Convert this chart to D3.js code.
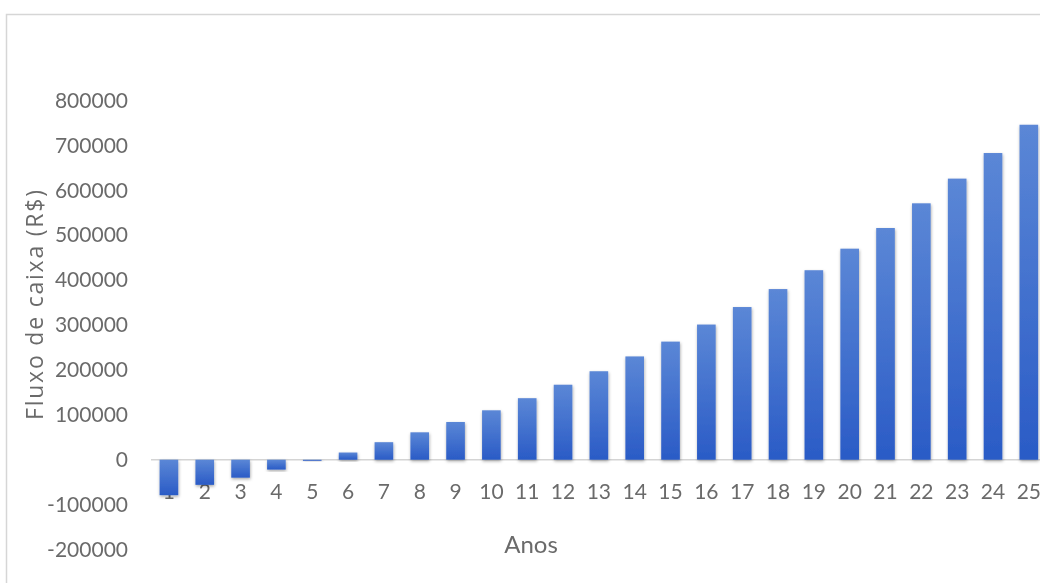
<!DOCTYPE html>
<html>
<head>
<meta charset="utf-8">
<script src="https://cdn.jsdelivr.net/npm/d3@7"></script>
<style>
  html, body { margin: 0; padding: 0; background: #fff; overflow: hidden; }
  svg { display: block; }
</style>
</head>
<body>
<svg id="chart" width="1040" height="583"></svg>
<script>
// Fluxo de caixa anual (R$) ao longo de 25 anos
const anos = ["1","2","3","4","5","6","7","8","9","10","11","12","13","14","15","16","17","18","19","20","21","22","23","24","25"];
const fluxo = [-79000, -56000, -40000, -22000, -2500, 16000, 39000, 61000, 84000, 110000, 137000, 167000, 197000, 230000, 263000, 301000, 340000, 380000, 422000, 470000, 516000, 571000, 626000, 683000, 746000];
const yTicks = [-200000, -100000, 0, 100000, 200000, 300000, 400000, 500000, 600000, 700000, 800000];

const svg = d3.select("#chart");
const font = "Lato, 'Open Sans', sans-serif";
const textColor = "#6b6b6b";

// chart frame (continues past the right and bottom edges)
svg.append("rect")
  .attr("x", 6.5).attr("y", 14.5)
  .attr("width", 1100).attr("height", 700)
  .attr("fill", "#fff")
  .attr("stroke", "#d6d6d6").attr("stroke-width", 1.5);

const x = d3.scaleBand().domain(anos).range([151, 151 + 25 * 35.83]).paddingInner(0.48).paddingOuter(0.24);
const y = d3.scaleLinear().domain([-200000, 800000]).range([549.5, 100.5]);

const defs = svg.append("defs");
const grad = defs.append("linearGradient").attr("id", "barGrad")
  .attr("x1", 0).attr("y1", 0).attr("x2", 0).attr("y2", 1);
grad.append("stop").attr("offset", "0%").attr("stop-color", "#5b87d6");
grad.append("stop").attr("offset", "100%").attr("stop-color", "#2a5bc6");

const shadow = defs.append("filter").attr("id", "shadow")
  .attr("x", "-30%").attr("y", "-10%").attr("width", "160%").attr("height", "130%");
shadow.append("feDropShadow").attr("dx", 0.5).attr("dy", 1.5).attr("stdDeviation", 1.5)
  .attr("flood-color", "#000").attr("flood-opacity", 0.35);

const soft = defs.append("filter").attr("id", "soft");
soft.append("feGaussianBlur").attr("stdDeviation", 0.5);

const g = svg.append("g").attr("filter", "url(#soft)");

// value axis labels (plain hyphen for negatives)
const yAxis = d3.axisLeft(y).tickValues(yTicks).tickFormat(d => String(d)).tickSize(0).tickPadding(0);
const yg = g.append("g").attr("transform", "translate(128,0)").call(yAxis);
yg.select(".domain").remove();
yg.selectAll("text")
  .attr("font-family", font).attr("font-size", 21).attr("fill", textColor);

// zero line
g.append("line")
  .attr("x1", 151).attr("x2", 1040)
  .attr("y1", y(0)).attr("y2", y(0))
  .attr("stroke", "#d4d4d4").attr("stroke-width", 1.5);

// category labels sit next to the zero line, underneath the bars
const xAxis = d3.axisBottom(x).tickSize(0).tickPadding(0);
const xg = g.append("g").attr("transform", `translate(0,${y(0) + 24})`).call(xAxis);
xg.select(".domain").remove();
xg.selectAll("text")
  .attr("font-family", font).attr("font-size", 21).attr("fill", textColor);

// bars
g.append("g").selectAll("rect")
  .data(fluxo)
  .join("rect")
  .attr("x", (d, i) => x(anos[i]))
  .attr("width", x.bandwidth())
  .attr("y", d => y(Math.max(0, d)))
  .attr("height", d => Math.abs(y(d) - y(0)))
  .attr("fill", "url(#barGrad)")
  .attr("filter", "url(#shadow)");

// axis titles
g.append("text")
  .attr("x", 531).attr("y", 553)
  .attr("text-anchor", "middle")
  .attr("font-family", font).attr("font-size", 24).attr("fill", textColor)
  .text("Anos");

g.append("text")
  .attr("transform", "translate(43,305) rotate(-90)")
  .attr("text-anchor", "middle")
  .attr("font-family", "'Open Sans', sans-serif").attr("font-size", 23).attr("fill", textColor)
  .attr("textLength", 230).attr("lengthAdjust", "spacing")
  .text("Fluxo de caixa (R$)");
</script>
</body>
</html>
